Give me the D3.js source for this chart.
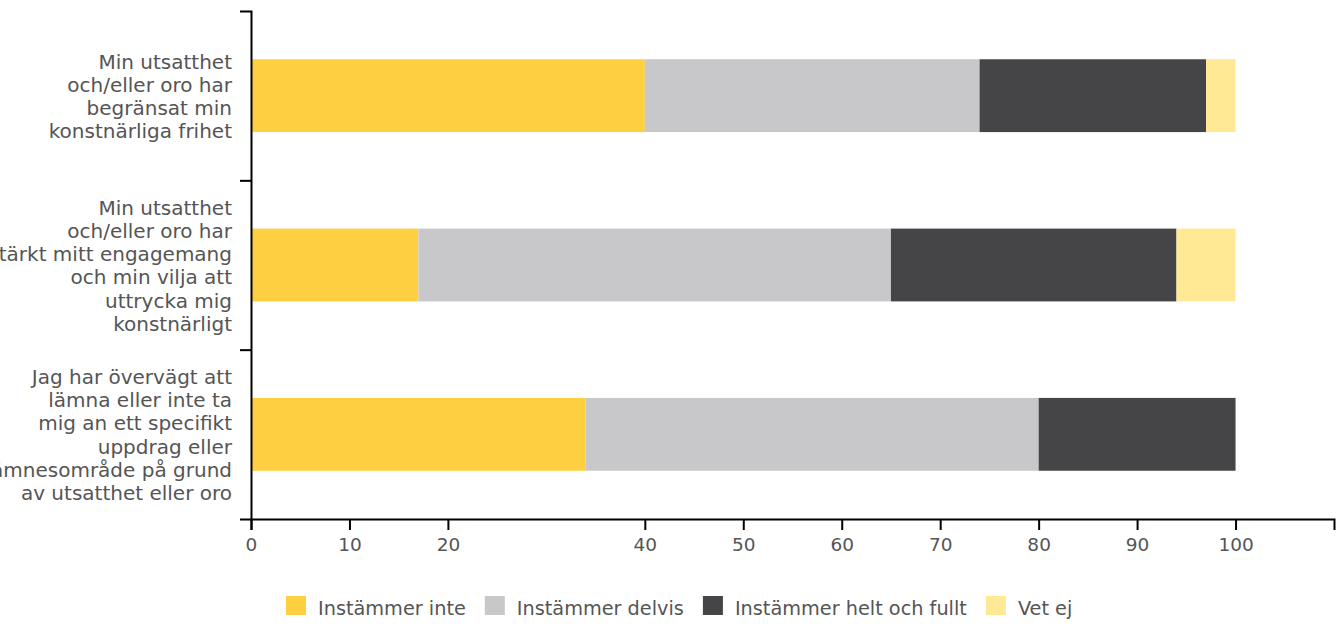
<!DOCTYPE html>
<html>
<head>
<meta charset="utf-8">
<script src="https://cdn.jsdelivr.net/npm/d3@7"></script>
<style>
  html, body { margin: 0; padding: 0; background: #fff; }
  svg { display: block; }
  text { font-family: "DejaVu Sans", sans-serif; fill: #555; }
</style>
</head>
<body>
<svg id="chart" width="1341" height="624"></svg>
<script>
// ---- data ----
const categories = [
  ["Min utsatthet", "och/eller oro har", "begränsat min", "konstnärliga frihet"],
  ["Min utsatthet", "och/eller oro har", "stärkt mitt engagemang", "och min vilja att", "uttrycka mig", "konstnärligt"],
  ["Jag har övervägt att", "lämna eller inte ta", "mig an ett specifikt", "uppdrag eller", "ämnesområde på grund", "av utsatthet eller oro"]
];
const seriesNames = ["Instämmer inte", "Instämmer delvis", "Instämmer helt och fullt", "Vet ej"];
const instammerInte = [40, 17, 34];
const instammerDelvis = [34, 48, 46];
const instammerHelt = [23, 29, 20];
const vetEj = [3, 6, 0];
const xTickValues = [0, 10, 20, 40, 50, 60, 70, 80, 90, 100];
const colors = ["#FDCF41", "#C8C8CA", "#454547", "#FFE995"];

(function () {
// ---- build table ----
const seriesValues = [instammerInte, instammerDelvis, instammerHelt, vetEj];
const table = categories.map((c, i) => {
  const row = { idx: i };
  seriesNames.forEach((s, k) => row[s] = seriesValues[k][i]);
  return row;
});
const stacked = d3.stack().keys(seriesNames)(table);

const svg = d3.select("#chart");
const mLeft = 251, mRight = 1334, mTop = 11, mBottom = 519;

const x = d3.scaleLinear().domain([0, 110]).range([mLeft, mRight]);
const y = d3.scaleBand().domain(d3.range(categories.length)).range([mTop, mBottom])
  .paddingInner(0.57).paddingOuter(0.285);
const yEdges = d3.scaleLinear().domain([0, categories.length]).range([mTop, mBottom]);
const color = d3.scaleOrdinal().domain(seriesNames).range(colors);

// bars
svg.append("g").selectAll("g").data(stacked).join("g")
  .attr("fill", d => color(d.key))
  .selectAll("rect").data(d => d).join("rect")
  .attr("x", d => x(d[0]))
  .attr("width", d => Math.max(0, x(d[1]) - x(d[0])))
  .attr("y", d => y(d.data.idx))
  .attr("height", y.bandwidth());

// x axis
const xAxis = svg.append("g").attr("transform", `translate(0,${mBottom})`)
  .call(d3.axisBottom(x).tickValues(xTickValues).tickSize(11).tickSizeOuter(11).tickPadding(8));
xAxis.selectAll("path, line").attr("stroke", "#000").attr("stroke-width", 2);
xAxis.selectAll("text").style("font-size", "18.5px").style("font-family", '"DejaVu Sans", sans-serif').attr("fill", "#555");

// y axis (ticks at category boundaries)
const yAxis = svg.append("g").attr("transform", `translate(${mLeft},0)`)
  .call(d3.axisLeft(yEdges).tickValues(d3.range(1, categories.length)).tickFormat("").tickSize(11).tickSizeOuter(11));
yAxis.selectAll("path, line").attr("stroke", "#000").attr("stroke-width", 2);

// category labels
const lh = 23.3;
const labels = svg.append("g");
categories.forEach((lines, i) => {
  const cy = y(i) + y.bandwidth() / 2;
  const t = labels.append("text")
    .attr("text-anchor", "end")
    .style("font-size", "20px");
  lines.forEach((ln, j) => {
    t.append("tspan")
      .attr("x", 232)
      .attr("y", cy - (lines.length - 1) / 2 * lh + 7.8 + j * lh)
      .text(ln);
  });
});

// legend
const legend = svg.append("g");
let lx = 286;
const ly = 596;
seriesNames.forEach((s, k) => {
  const g = legend.append("g");
  g.append("rect").attr("x", lx).attr("y", ly).attr("width", 20).attr("height", 19).attr("fill", color(s));
  const t = g.append("text").attr("x", lx + 32).attr("y", ly + 19).style("font-size", "19.3px").text(s);
  const w = t.node().getComputedTextLength();
  lx = lx + 32 + w + 19;
});
})();
</script>
</body>
</html>
